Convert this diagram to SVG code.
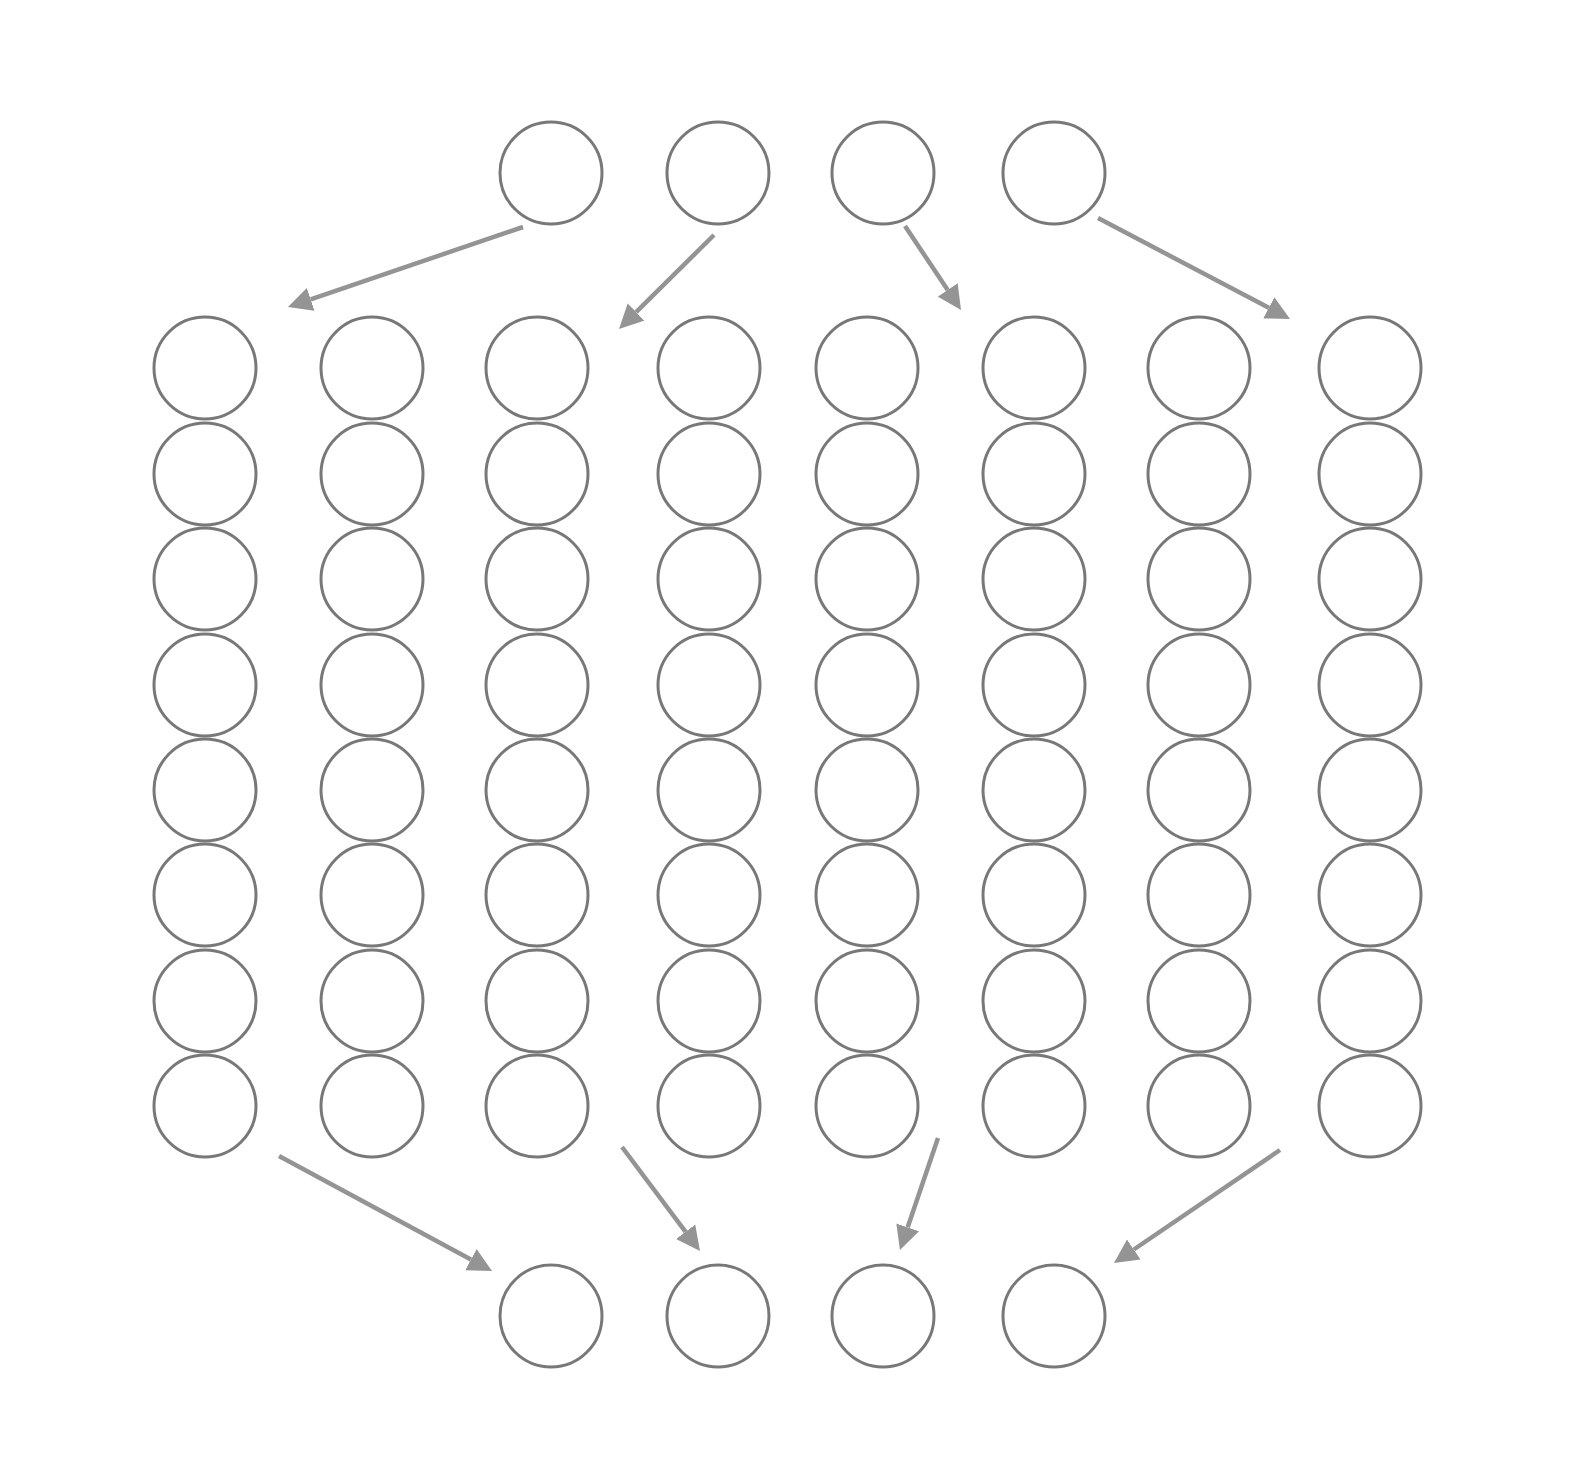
<svg xmlns="http://www.w3.org/2000/svg" width="1576" height="1461" viewBox="0 0 1576 1461">
<style>
.n{fill:#fff;stroke:#787878;stroke-width:3}
.e{stroke:#949494;stroke-width:4.5;fill:none;marker-end:url(#ah)}
</style>
<defs>
<marker id="ah" markerUnits="userSpaceOnUse" viewBox="0 0 24 24" markerWidth="24" markerHeight="25" refX="0" refY="12" orient="auto">
<path d="M0,0 L24,12 L0,24 z" fill="#949494"/>
</marker>
</defs>
<rect width="1576" height="1461" fill="#fff"/>
<g id="top">
<circle id="t1" class="n" cx="551" cy="173" r="51"/>
<circle id="t2" class="n" cx="718" cy="173" r="51"/>
<circle id="t3" class="n" cx="883" cy="173" r="51"/>
<circle id="t4" class="n" cx="1054" cy="173" r="51"/>
</g>
<g id="grid">
<g id="c1"><circle class="n" cx="205" cy="368" r="51"/><circle class="n" cx="205" cy="474" r="51"/><circle class="n" cx="205" cy="579" r="51"/><circle class="n" cx="205" cy="685" r="51"/><circle class="n" cx="205" cy="790" r="51"/><circle class="n" cx="205" cy="895" r="51"/><circle class="n" cx="205" cy="1001" r="51"/><circle class="n" cx="205" cy="1106" r="51"/></g>
<g id="c2"><circle class="n" cx="372" cy="368" r="51"/><circle class="n" cx="372" cy="474" r="51"/><circle class="n" cx="372" cy="579" r="51"/><circle class="n" cx="372" cy="685" r="51"/><circle class="n" cx="372" cy="790" r="51"/><circle class="n" cx="372" cy="895" r="51"/><circle class="n" cx="372" cy="1001" r="51"/><circle class="n" cx="372" cy="1106" r="51"/></g>
<g id="c3"><circle class="n" cx="537" cy="368" r="51"/><circle class="n" cx="537" cy="474" r="51"/><circle class="n" cx="537" cy="579" r="51"/><circle class="n" cx="537" cy="685" r="51"/><circle class="n" cx="537" cy="790" r="51"/><circle class="n" cx="537" cy="895" r="51"/><circle class="n" cx="537" cy="1001" r="51"/><circle class="n" cx="537" cy="1106" r="51"/></g>
<g id="c4"><circle class="n" cx="709" cy="368" r="51"/><circle class="n" cx="709" cy="474" r="51"/><circle class="n" cx="709" cy="579" r="51"/><circle class="n" cx="709" cy="685" r="51"/><circle class="n" cx="709" cy="790" r="51"/><circle class="n" cx="709" cy="895" r="51"/><circle class="n" cx="709" cy="1001" r="51"/><circle class="n" cx="709" cy="1106" r="51"/></g>
<g id="c5"><circle class="n" cx="867" cy="368" r="51"/><circle class="n" cx="867" cy="474" r="51"/><circle class="n" cx="867" cy="579" r="51"/><circle class="n" cx="867" cy="685" r="51"/><circle class="n" cx="867" cy="790" r="51"/><circle class="n" cx="867" cy="895" r="51"/><circle class="n" cx="867" cy="1001" r="51"/><circle class="n" cx="867" cy="1106" r="51"/></g>
<g id="c6"><circle class="n" cx="1034" cy="368" r="51"/><circle class="n" cx="1034" cy="474" r="51"/><circle class="n" cx="1034" cy="579" r="51"/><circle class="n" cx="1034" cy="685" r="51"/><circle class="n" cx="1034" cy="790" r="51"/><circle class="n" cx="1034" cy="895" r="51"/><circle class="n" cx="1034" cy="1001" r="51"/><circle class="n" cx="1034" cy="1106" r="51"/></g>
<g id="c7"><circle class="n" cx="1199" cy="368" r="51"/><circle class="n" cx="1199" cy="474" r="51"/><circle class="n" cx="1199" cy="579" r="51"/><circle class="n" cx="1199" cy="685" r="51"/><circle class="n" cx="1199" cy="790" r="51"/><circle class="n" cx="1199" cy="895" r="51"/><circle class="n" cx="1199" cy="1001" r="51"/><circle class="n" cx="1199" cy="1106" r="51"/></g>
<g id="c8"><circle class="n" cx="1370" cy="368" r="51"/><circle class="n" cx="1370" cy="474" r="51"/><circle class="n" cx="1370" cy="579" r="51"/><circle class="n" cx="1370" cy="685" r="51"/><circle class="n" cx="1370" cy="790" r="51"/><circle class="n" cx="1370" cy="895" r="51"/><circle class="n" cx="1370" cy="1001" r="51"/><circle class="n" cx="1370" cy="1106" r="51"/></g>
</g>
<g id="bottom">
<circle id="b1" class="n" cx="551" cy="1316" r="51"/>
<circle id="b2" class="n" cx="718" cy="1316" r="51"/>
<circle id="b3" class="n" cx="883" cy="1316" r="51"/>
<circle id="b4" class="n" cx="1054" cy="1316" r="51"/>
</g>
<g id="connectors">
<line class="e" x1="523" y1="227" x2="310.7" y2="299.3"/>
<line class="e" x1="714" y1="235" x2="636.1" y2="312.1"/>
<line class="e" x1="905" y1="226" x2="947.7" y2="290"/>
<line class="e" x1="1098" y1="218" x2="1268.8" y2="307.8"/>
<line class="e" x1="279" y1="1156" x2="470.9" y2="1259.6"/>
<line class="e" x1="622" y1="1147" x2="685.6" y2="1231.8"/>
<line class="e" x1="938" y1="1138" x2="907.7" y2="1227.3"/>
<line class="e" x1="1280" y1="1150" x2="1133.8" y2="1249.5"/>
</g>
</svg>
